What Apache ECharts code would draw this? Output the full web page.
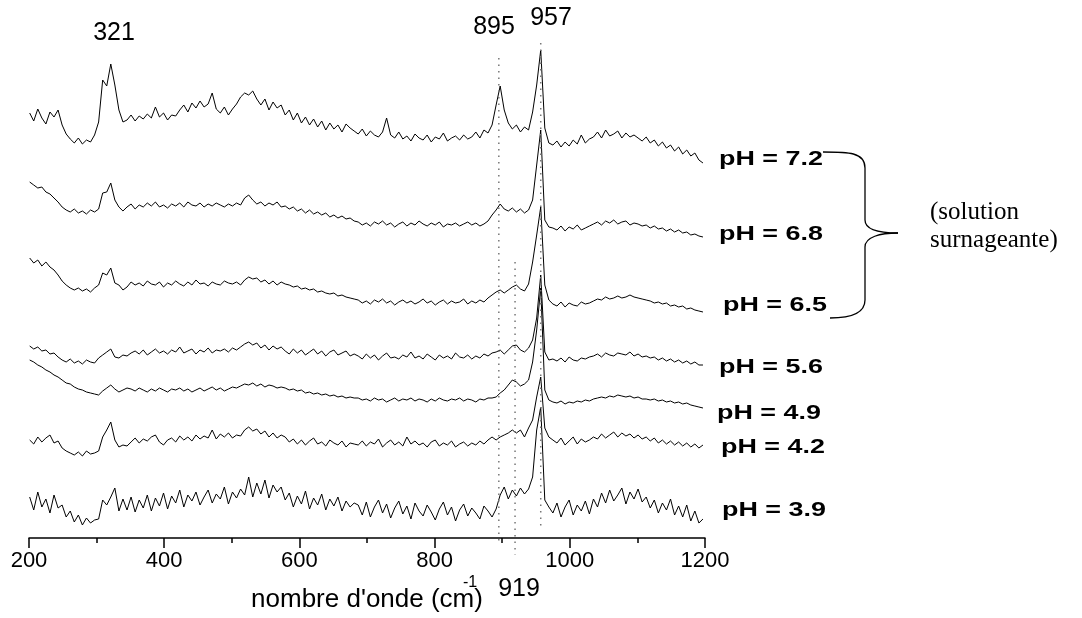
<!DOCTYPE html>
<html><head><meta charset="utf-8">
<script src="https://cdn.jsdelivr.net/npm/echarts@6/dist/echarts.min.js"></script>
<style>html,body{margin:0;padding:0;background:#fff}#c{width:1082px;height:618px}</style>
</head><body><div id="c"></div>
<script>
// Sampling grid of the spectra (cm-1)
const firstWavenumber = 201;
const wavenumberStep = 6;

// Raman intensities (a.u.), one spectrum per pH
const ph72 = [52,44,56,47,41,53,48,55,40,31, 26,22,27,21,25,23,30, 43,85,79,101,80,55,43,45, 50,44,49,46,51,47,58,48,52,45,50,49, 55,60,53,62,57,64,58,61,72,56, 52,58,50,56,61, 68,72,70,74,66, 60,66,55,63,57,60, 50,55,45,52,42,48,40,46, 38,44,35,42,36,40,33,41,37,34, 31,36,29,34,30,28,33,47, 30,27,33,26,29,24,31,27,25,30,23,28,26,32,24,27,29,25,30,26,28,33,27,35,32, 40,60,79,55,42, 36,40,33,38,35, 53,80,115,37,22, 20,24,18,23,19,25,21,30,22,26, 28,33,27,35,29,31,34,27,32,28,30, 27,24,28,22,25,19,23,17,20,14,18,11,15,9,12,5,2];
const ph68 = [58,55,52,53,48,46,42,38, 33,30,28,31,27,29,26,30,28, 31,47,48,57,40,33,29, 33,36,31,35,33,37,34,38,33,35,32,36,34,37,33,38,35,34,37,33,36,34,37,35,33,36,34,37,35, 42,45,40, 36,38,34,37,35,38,33, 34,31,33,29,31,27,30,26,28,25,27,23,25,22,24,21,22,19, 18,15,17,14,18,16,19,15,17,13,16,18,14,17,15,19,16,14,17,15,18,13,16,15,17,14,16,18,15,17,14,16,19, 25,30,36,31,29,32,28,31,27,30, 40,75,110,20,13, 12,10,14,9,13,11,15,10,12,14, 16,18,15,19,17,20,16,18,19,15,17,16,14, 15,12,14,11,12,9,11,8,10,7,8,5,6,4,3];
const ph65 = [57,52,55,49,53,48,45, 40,34,30,27, 25,27,24,26,23,27,30, 42,40,47,32,30,25,28, 33,30,32,29,34,31,30,33,28,32,30,34,31,29,33,30,35,31,32,29,33,31,30,34,32,31,33,30, 35,38,36,37, 33,35,31,34,30,33,31, 30,28,29,26,27,25,26,23,24,22,21,22,19,20,18,17,16, 15,12,14,11,15,13,16,12,14,10,13,15,12,14,11,13,16,12,14,10,13,15,11,14,12,13,16,11,14,12,15,13,17, 20,23,25,22,25,28,30,26,24,31, 53,80,108,30,15, 11,9,13,8,12,10,9,13,11,12, 14,16,15,18,16,17,19,17,18,20,18,17,16, 15,14,12,13,11,12,9,10,8,9,6,7,5,4,3];
const ph56 = [22,19,21,17,18,14,15,11, 8,6,9,5,7,4,8,6,5, 10,13,16,19,11,10,13,12, 15,17,14,18,13,16,19,15,17,14,18,16,21,15,17,19,14,18,16,20,15,18,17,19,16,20,18,21, 24,26,23,25, 20,23,18,22,19,21, 17,14,19,15,18,13,16,19,14,17,12,16,18,13,15,17,12,14, 12,9,14,10,13,8,12,15,10,11,9,13,11,16,10,12,9,14,11,8,13,10,12,9,15,11,10,13,9,12,10,14,12, 15,16,18,14,18,22,23,18,16,20, 28,50,93,16,8, 9,7,10,6,11,8,7,10,9,11, 12,14,11,15,13,12,15,14,13,16,12,14,11, 12,10,11,8,10,7,9,6,8,5,7,4,6,3,3];
const ph49 = [50,48,45,43,40,38,35,33, 30,27,26,23,21,20,18,17,16, 15,19,22,25,21,18,20,22, 21,19,22,20,18,21,19,22,20,18,21,20,22,19,21,18,20,22,19,21,23,20,22,19,21,23,22,24, 26,25,27,24,26,23,25,24,22,23, 22,20,21,19,20,17,18,16,17,15,16,14,15,13,14,12,13,12, 12,10,11,9,12,10,11,8,10,12,9,11,10,12,9,11,10,8,11,9,12,10,9,11,10,12,9,11,10,8,11,10,12, 12,13,17,20,25,30,28,24,26,30, 48,80,122,20,10, 8,7,9,6,8,7,9,8,10,9, 11,12,13,12,14,13,15,14,13,14,12,13,11, 11,10,11,9,10,8,9,7,8,6,7,5,4,3,2];
const ph42 = [20,16,23,18,22,25,17,19, 12,9,7,5,8,4,9,6,7, 9,23,30,38,20,13,15,14, 18,22,17,21,19,23,25,18,15,20,22,18,24,20,23,19,25,21,24,22,30,21,26,23,27,22,25,24, 30,33,29,31, 26,29,23,27,22,25, 23,18,21,16,20,15,19,22,16,18,14,20,17,15,19,13,17,16, 15,19,14,18,16,21,13,17,20,15,18,14,23,16,19,15,17,13,18,20,14,17,15,19,13,16,18,14,17,15,19,16,20, 23,20,23,25,27,30,27,30,23,32, 40,63,83,32,23, 20,17,22,15,19,23,16,21,18,20, 23,21,26,22,25,28,23,27,24,26,22,25,21, 23,19,22,17,20,16,19,15,18,14,17,13,16,12,15];
const ph39 = [28,15,33,18,26,12,30,17, 20,8,14,3,10,0,7,2,5, 6,25,20,28,37,14,26,15, 28,13,25,17,30,14,27,19,32,16,29,22,35,18,30,24,33,20,28,35,22,31,26,38,21,33,27,36, 30,48,28,42,31,45,27,40,33,38, 25,32,18,29,21,34,16,27,20,31,15,26,19,28,14,24,18,22, 20,10,23,8,18,25,12,21,7,17,24,11,19,6,22,14,9,20,13,5,16,23,10,18,4,15,21,9,17,12,6,19,14,8,16, 30,38,26,35,29,37,31,36, 48,95,118,25,18, 12,22,8,18,25,10,20,14,24,11, 26,18,32,22,35,24,30,37,21,33,26,36,23, 28,17,25,12,22,15,26,10,19,8,20,4,14,2,6];

const spectra = [ph72, ph68, ph65, ph56, ph49, ph42, ph39];
const stackOffsets = [373, 298, 223, 170, 128, 78, 13];
const phLabels = ['pH = 7.2', 'pH = 6.8', 'pH = 6.5', 'pH = 5.6', 'pH = 4.9', 'pH = 4.2', 'pH = 3.9'];
const peakPositions = [895, 919, 957];
const peakLabels = ['321', '895', '957', '919'];
const xMin = 200, xMax = 1200, xInterval = 200;

function fontAvailable(name) {
  const ctx = document.createElement('canvas').getContext('2d');
  ctx.font = '40px monospace';
  const a = ctx.measureText('nombre 200 wmi').width;
  ctx.font = '40px "' + name + '", monospace';
  return ctx.measureText('nombre 200 wmi').width !== a;
}
const narrow = fontAvailable('Liberation Sans Narrow');
const tickFont = narrow ? { fontFamily: 'Liberation Sans Narrow', fontSize: 25 }
                        : { fontFamily: 'Liberation Sans', fontSize: 22 };

const chart = echarts.init(document.getElementById('c'), null, { renderer: 'canvas' });

const spectrumSeries = spectra.map((vals, s) => ({
  type: 'line',
  name: phLabels[s],
  data: vals.map((v, i) => [firstWavenumber + i * wavenumberStep, stackOffsets[s] + v]),
  showSymbol: false,
  symbol: 'none',
  silent: true,
  animation: false,
  lineStyle: { color: '#000', width: 1 },
  z: 2
}));

const guideExtents = [[480, -7], [276, -17], [495, 8]];
const guideSeries = peakPositions.map((p, j) => ({
  type: 'line',
  name: 'repère ' + p,
  data: [[p, guideExtents[j][0]], [p, guideExtents[j][1]]],
  showSymbol: false,
  symbol: 'none',
  silent: true,
  clip: false,
  animation: false,
  lineStyle: { color: '#777', width: 1.5, type: [1.5, 5] },
  z: 3
}));

const txt = (text, x, y, extra) => Object.assign({
  type: 'text', x: x, y: y, silent: true,
  style: Object.assign({ text: text, fill: '#000', fontFamily: 'Liberation Sans', fontSize: 25,
    align: 'center', verticalAlign: 'middle' }, extra && extra.style)
}, extra && extra.el);

const phPos = [[719, 159], [719, 234], [723, 305], [719, 367], [717, 413], [721, 447], [722, 510]];

const braceStyle = { stroke: '#000', lineWidth: 1.3, fill: null };
const brace = [
  { type: 'bezierCurve', silent: true, shape: { x1: 823, y1: 152, cpx1: 848, cpy1: 152, cpx2: 865, cpy2: 152, x2: 865, y2: 168 }, style: braceStyle },
  { type: 'line', silent: true, shape: { x1: 865, y1: 168, x2: 865, y2: 220 }, style: braceStyle },
  { type: 'bezierCurve', silent: true, shape: { x1: 865, y1: 220, cpx1: 865, cpy1: 230, cpx2: 880, cpy2: 233, x2: 898, y2: 233 }, style: braceStyle },
  { type: 'bezierCurve', silent: true, shape: { x1: 898, y1: 233, cpx1: 880, cpy1: 233, cpx2: 865, cpy2: 237, x2: 865, y2: 247 }, style: braceStyle },
  { type: 'line', silent: true, shape: { x1: 865, y1: 247, x2: 865, y2: 300 }, style: braceStyle },
  { type: 'bezierCurve', silent: true, shape: { x1: 865, y1: 300, cpx1: 865, cpy1: 314, cpx2: 850, cpy2: 318, x2: 830, y2: 318 }, style: braceStyle }
];

const graphics = [
  txt(peakLabels[0], 114, 33),
  txt(peakLabels[1], 494, 27),
  txt(peakLabels[2], 551, 18),
  txt(peakLabels[3], 519, 589),
  txt('-1', 470, 583, { style: { fontSize: 16 } }),
  txt('(solution\nsurnageante)', 930, 226, { style: { fontFamily: 'Liberation Serif', fontSize: 25, lineHeight: 28, align: 'left' } })
].concat(brace).concat(phLabels.map((t, s) => txt(t, phPos[s][0], phPos[s][1], {
  el: { scaleX: 1.28 },
  style: { fontSize: 21, fontWeight: 'bold', align: 'left' }
})));

chart.setOption({
  animation: false,
  backgroundColor: '#fff',
  grid: { left: 29, right: 377, top: 0, bottom: 80, containLabel: false, outerBoundsMode: 'none' },
  xAxis: {
    type: 'value', min: xMin, max: xMax, interval: xInterval,
    name: "nombre d'onde (cm)", nameLocation: 'middle', nameGap: 49,
    nameTextStyle: { fontFamily: 'Liberation Sans', fontSize: 26, color: '#000' },
    axisLine: { show: true, onZero: false, lineStyle: { color: '#000', width: 1.5 } },
    axisTick: { show: true, inside: false, length: 10, lineStyle: { color: '#000', width: 1.5 } },
    minorTick: { show: true, splitNumber: 2, length: 5, lineStyle: { color: '#000', width: 1.5 } },
    axisLabel: Object.assign({ color: '#000', margin: 12, formatter: v => String(v) }, tickFont),
    splitLine: { show: false }
  },
  yAxis: { type: 'value', min: 0, max: 538, show: false, splitLine: { show: false } },
  series: spectrumSeries.concat(guideSeries),
  graphic: graphics
});
</script>
</body></html>
